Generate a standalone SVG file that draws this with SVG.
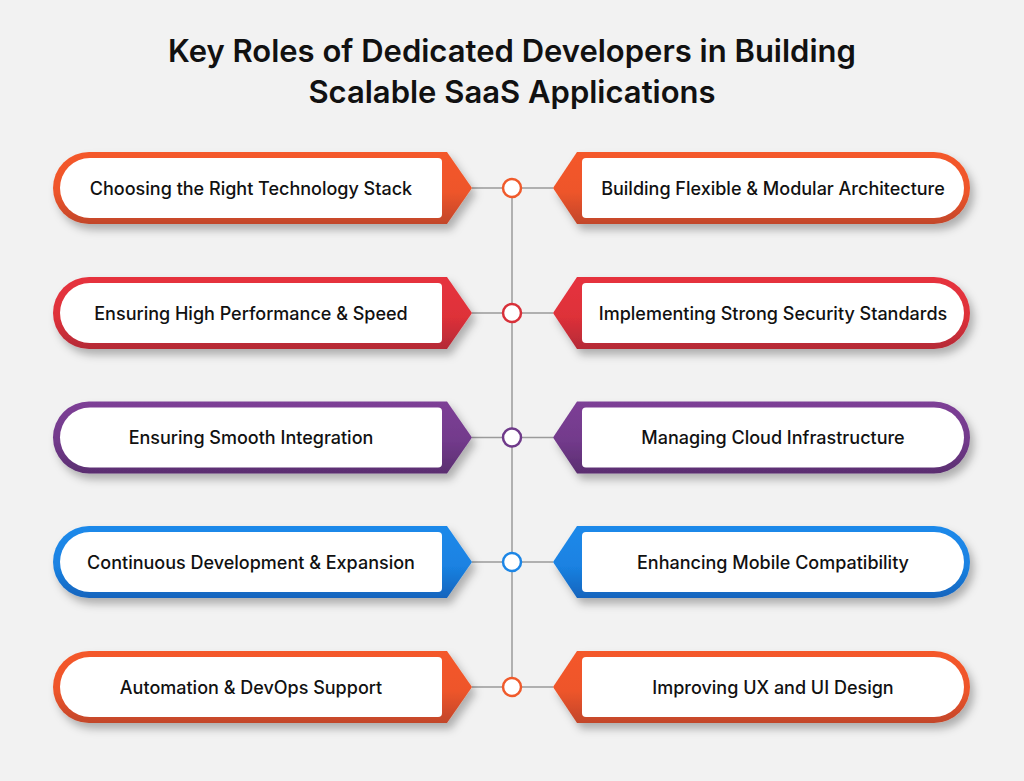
<svg xmlns="http://www.w3.org/2000/svg" xmlns:xlink="http://www.w3.org/1999/xlink" width="1024" height="781" viewBox="0 0 1024 781">
<style>
.title{font-family:Inter,"Liberation Sans",sans-serif;font-weight:600;font-size:31px;fill:#111;text-anchor:middle}
.lbl{font-family:Inter,"Liberation Sans",sans-serif;font-weight:500;font-size:18px;fill:#111;text-anchor:middle}
.inner{fill:#fff}
.conn{stroke:#9b9b9b;stroke-width:1.5;fill:none}
.dot{fill:#fff;stroke-width:2.5}
</style>
<defs>
<linearGradient id="gO" x1="0" y1="0" x2="0" y2="1"><stop offset="0" stop-color="#F4582A"/><stop offset="0.55" stop-color="#EE5529"/><stop offset="1" stop-color="#C2462A"/></linearGradient>
<linearGradient id="gR" x1="0" y1="0" x2="0" y2="1"><stop offset="0" stop-color="#E6323E"/><stop offset="0.55" stop-color="#DE3039"/><stop offset="1" stop-color="#B42B36"/></linearGradient>
<linearGradient id="gP" x1="0" y1="0" x2="0" y2="1"><stop offset="0" stop-color="#7D3F96"/><stop offset="0.55" stop-color="#723A8B"/><stop offset="1" stop-color="#5A2E70"/></linearGradient>
<linearGradient id="gB" x1="0" y1="0" x2="0" y2="1"><stop offset="0" stop-color="#1C89EA"/><stop offset="0.55" stop-color="#1A82E2"/><stop offset="1" stop-color="#1464BD"/></linearGradient>
<filter id="sh" x="-10%" y="-30%" width="130%" height="180%"><feDropShadow dx="4" dy="6" stdDeviation="4" flood-color="#000" flood-opacity="0.28"/></filter>
<path id="lo" d="M89,-36 L447,-36 L472,0 L447,36 L89,36 A36,36 0 0 1 89,-36 Z"/>
<path id="li" d="M90,-30 L438,-30 Q442,-30 442,-26 L442,26 Q442,30 438,30 L90,30 A30,30 0 0 1 90,-30 Z"/>
<path id="ro" d="M934,-36 L577,-36 L553,0 L577,36 L934,36 A36,36 0 0 0 934,-36 Z"/>
<path id="ri" d="M934,-30 L586,-30 Q582,-30 582,-26 L582,26 Q582,30 586,30 L934,30 A30,30 0 0 0 934,-30 Z"/>
</defs>
<rect width="1024" height="781" fill="#F2F2F2"/>
<text class="title" x="512" y="62">Key Roles of Dedicated Developers in Building</text>
<text class="title" x="512" y="103">Scalable SaaS Applications</text>
<g id="connectors">
<line class="conn" x1="512" y1="188" x2="512" y2="687"/>
<path class="conn" d="M472,188H553M472,313H553M472,437.5H553M472,562H553M472,687H553"/>
<circle class="dot" cx="512" cy="188" r="9" stroke="#F05A2B"/>
<circle class="dot" cx="512" cy="313" r="9" stroke="#D83039"/>
<circle class="dot" cx="512" cy="437.5" r="9" stroke="#6F3A8A"/>
<circle class="dot" cx="512" cy="562" r="9" stroke="#1C86E6"/>
<circle class="dot" cx="512" cy="687" r="9" stroke="#F05A2B"/>
</g>
<g id="n1" transform="translate(0,188)"><use xlink:href="#lo" fill="url(#gO)" filter="url(#sh)"/><use xlink:href="#li" class="inner"/><text class="lbl" x="251" y="6.5">Choosing the Right Technology Stack</text></g>
<g id="n2" transform="translate(0,188)"><use xlink:href="#ro" fill="url(#gO)" filter="url(#sh)"/><use xlink:href="#ri" class="inner"/><text class="lbl" x="773" y="6.5">Building Flexible &amp; Modular Architecture</text></g>
<g id="n3" transform="translate(0,313)"><use xlink:href="#lo" fill="url(#gR)" filter="url(#sh)"/><use xlink:href="#li" class="inner"/><text class="lbl" x="251" y="6.5">Ensuring High Performance &amp; Speed</text></g>
<g id="n4" transform="translate(0,313)"><use xlink:href="#ro" fill="url(#gR)" filter="url(#sh)"/><use xlink:href="#ri" class="inner"/><text class="lbl" x="773" y="6.5">Implementing Strong Security Standards</text></g>
<g id="n5" transform="translate(0,437.5)"><use xlink:href="#lo" fill="url(#gP)" filter="url(#sh)"/><use xlink:href="#li" class="inner"/><text class="lbl" x="251" y="6.5">Ensuring Smooth Integration</text></g>
<g id="n6" transform="translate(0,437.5)"><use xlink:href="#ro" fill="url(#gP)" filter="url(#sh)"/><use xlink:href="#ri" class="inner"/><text class="lbl" x="773" y="6.5">Managing Cloud Infrastructure</text></g>
<g id="n7" transform="translate(0,562)"><use xlink:href="#lo" fill="url(#gB)" filter="url(#sh)"/><use xlink:href="#li" class="inner"/><text class="lbl" x="251" y="6.5">Continuous Development &amp; Expansion</text></g>
<g id="n8" transform="translate(0,562)"><use xlink:href="#ro" fill="url(#gB)" filter="url(#sh)"/><use xlink:href="#ri" class="inner"/><text class="lbl" x="773" y="6.5">Enhancing Mobile Compatibility</text></g>
<g id="n9" transform="translate(0,687)"><use xlink:href="#lo" fill="url(#gO)" filter="url(#sh)"/><use xlink:href="#li" class="inner"/><text class="lbl" x="251" y="6.5">Automation &amp; DevOps Support</text></g>
<g id="n10" transform="translate(0,687)"><use xlink:href="#ro" fill="url(#gO)" filter="url(#sh)"/><use xlink:href="#ri" class="inner"/><text class="lbl" x="773" y="6.5">Improving UX and UI Design</text></g>
</svg>
